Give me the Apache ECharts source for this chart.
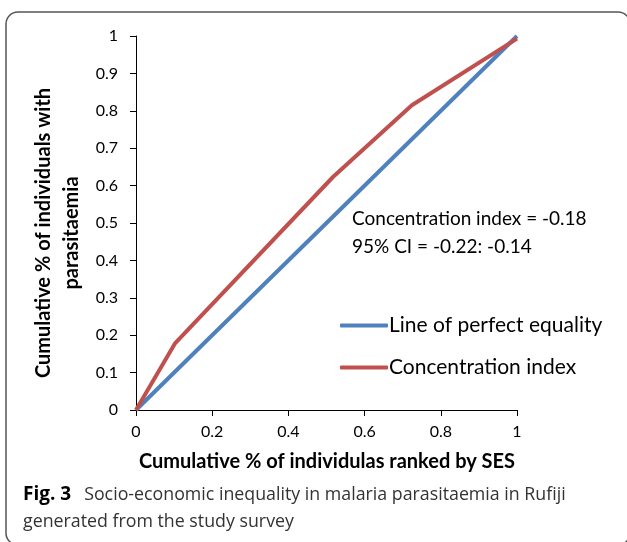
<!DOCTYPE html>
<html>
<head>
<meta charset="utf-8">
<script src="https://cdn.jsdelivr.net/npm/echarts@6/dist/echarts.min.js"></script>
<style>
  html, body { margin: 0; padding: 0; background: #fff; }
  #main { width: 627px; height: 542px; }
</style>
</head>
<body>
<div id="main"></div>
<script>
// data
var equalityX = [0, 1];
var equalityY = [0, 1];
var concX = [0, 0.103, 0.517, 0.724, 1];
var concY = [0, 0.179, 0.623, 0.815, 0.993];
var seriesNames = ['Line of perfect equality', 'Concentration index'];
var noteLines = ['Concentration index = -0.18', '95% CI = -0.22: -0.14'];

function pairs(xs, ys) {
  return xs.map(function (x, i) { return [x, ys[i]]; });
}

var chartFont = 'Lato, "Open Sans", sans-serif';
var capFont = '"Open Sans", sans-serif';
var myChart = echarts.init(document.getElementById('main'));

var option = {
  animation: false,
  grid: { left: 136, right: 110, top: 36, bottom: 132 },
  legend: {
    orient: 'vertical',
    left: 335,
    top: 310,
    itemGap: 21,
    itemWidth: 48,
    itemHeight: 4,
    icon: 'roundRect',
    textStyle: { fontFamily: chartFont, fontSize: 21, color: '#000', padding: [0, 0, 0, -4] },
    data: seriesNames
  },
  xAxis: {
    type: 'value', min: 0, max: 1, interval: 0.2,
    axisLine: { lineStyle: { color: '#000', width: 1 } },
    axisTick: { length: 6, lineStyle: { color: '#000' } },
    axisLabel: { color: '#000', fontFamily: chartFont, fontSize: 16, margin: 14 },
    splitLine: { show: false }
  },
  yAxis: {
    type: 'value', min: 0, max: 1, interval: 0.1,
    axisLine: { show: true, lineStyle: { color: '#000', width: 1 } },
    axisTick: { show: true, length: 6, lineStyle: { color: '#000' } },
    axisLabel: { color: '#000', fontFamily: chartFont, fontSize: 16, margin: 18 },
    splitLine: { show: false }
  },
  series: [
    {
      name: seriesNames[0], type: 'line', data: pairs(equalityX, equalityY),
      symbol: 'none', lineStyle: { color: '#4F81BD', width: 4 }, itemStyle: { color: '#4F81BD' }
    },
    {
      name: seriesNames[1], type: 'line', data: pairs(concX, concY),
      symbol: 'none', lineStyle: { color: '#C0504D', width: 4 }, itemStyle: { color: '#C0504D' }
    }
  ],
  graphic: [
    {
      type: 'rect', z: -1, silent: true,
      shape: { x: 6, y: 12, width: 624, height: 533, r: 12 },
      style: { fill: 'none', stroke: '#555', lineWidth: 1.5 }
    },
    {
      type: 'text', left: 352, top: 205,
      style: { text: noteLines.join('\n'), font: '19px ' + chartFont, fill: '#000', lineHeight: 28 }
    },
    {
      type: 'text', x: 44, y: 233, rotation: Math.PI / 2,
      style: {
        text: 'Cumulative % of individuals with', font: 'bold 20px ' + chartFont,
        fill: '#000', align: 'center', verticalAlign: 'middle'
      }
    },
    {
      type: 'text', x: 72, y: 233, rotation: Math.PI / 2,
      style: {
        text: 'parasitaemia', font: 'bold 20px ' + chartFont,
        fill: '#000', align: 'center', verticalAlign: 'middle'
      }
    },
    {
      type: 'text', x: 327, y: 462,
      style: {
        text: 'Cumulative % of individulas ranked by SES', font: 'bold 20px ' + chartFont,
        fill: '#000', align: 'center', verticalAlign: 'middle'
      }
    },
    {
      type: 'text', x: 23, y: 495,
      style: {
        text: '{b|Fig. 3}Socio-economic inequality in malaria parasitaemia in Rufiji',
        font: '17.8px ' + capFont,
        fill: '#333', verticalAlign: 'middle',
        rich: { b: { fontWeight: 'bold', fontSize: 19, fill: '#000', fontFamily: capFont, padding: [0, 13, 0, 0] } }
      }
    },
    {
      type: 'text', x: 23, y: 522,
      style: {
        text: 'generated from the study survey',
        font: '17.8px ' + capFont,
        fill: '#333', verticalAlign: 'middle'
      }
    }
  ]
};

myChart.setOption(option);
</script>
</body>
</html>
